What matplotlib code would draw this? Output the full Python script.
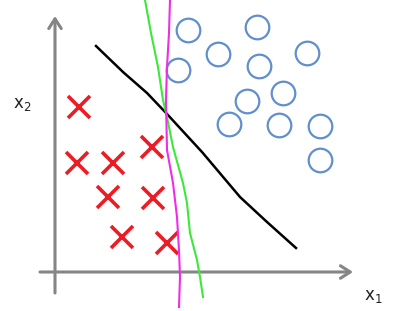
import numpy as np
import matplotlib.pyplot as plt

# sketch coordinates, origin at the corner of the drawn axes (pixel-ish units)
cross_x = [24, 22, 58, 97, 53, 98, 67, 112]
cross_y = [165, 109, 109, 125, 75, 74, 35, 29]

circle_x = [133, 202, 163, 252, 123, 204, 228, 192, 174, 224, 265, 265]
circle_y = [242, 245, 218, 219, 202, 206, 179, 171, 148, 147, 146, 112]

black_x = [41, 68, 92, 112, 147, 185, 212, 241]
black_y = [226, 200, 179, 158, 120, 75, 50, 24]

green_x = [90, 96, 103, 108, 112, 118, 128, 132, 135, 142, 145, 148]
green_y = [272, 239, 205, 172, 155, 125, 89, 69, 39, 12, -5, -25]

magenta_x = [115, 114, 112, 111, 112, 118, 122, 124, 125, 124]
magenta_y = [272, 239, 205, 172, 122, 89, 55, 22, -5, -35]

fig = plt.figure(figsize=(3.94, 3.11), dpi=100)
ax = fig.add_axes([0, 0, 1, 1])
ax.set_xlim(-55, 339)
ax.set_ylim(-39, 272)
ax.axis("off")

axis_col = "#858585"
ax.annotate("", xy=(298, 0), xytext=(-15, 0),
            arrowprops=dict(arrowstyle="->,head_length=0.7,head_width=0.45",
                            color=axis_col, lw=2.2, shrinkA=0, shrinkB=0))
ax.annotate("", xy=(0, 256), xytext=(0, -21),
            arrowprops=dict(arrowstyle="->,head_length=0.7,head_width=0.45",
                            color=axis_col, lw=2.2, shrinkA=0, shrinkB=0))

ax.plot(black_x, black_y, color="black", lw=1.8, zorder=3)
ax.plot(green_x, green_y, color="#3ee83a", lw=1.5, zorder=3)
ax.plot(magenta_x, magenta_y, color="#ee2ee6", lw=1.5, zorder=4)

ax.plot(cross_x, cross_y, ls="none", marker="x", ms=16, mew=2.6,
        color="#ec1c24", zorder=2)
ax.plot(circle_x, circle_y, ls="none", marker="o", ms=17, mew=1.6,
        mfc="none", mec="#5f8fcf", zorder=2)

ax.text(-42, 168, "x$_2$", fontsize=12, color="#222222", va="center", ha="left")
ax.text(309, -24, "x$_1$", fontsize=12, color="#222222", va="center", ha="left")

plt.savefig("out.png", dpi=100)
